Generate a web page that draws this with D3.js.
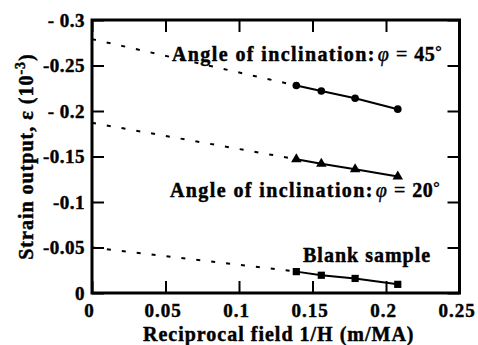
<!DOCTYPE html>
<html>
<head>
<meta charset="utf-8">
<script src="https://cdn.jsdelivr.net/npm/d3@7/dist/d3.min.js"></script>
<style>
  html, body { margin: 0; padding: 0; background: #fff; }
  svg { display: block; }
  text { font-family: "Liberation Serif", "Times New Roman", serif; font-weight: bold; fill: #000;
         stroke: #000; stroke-width: 0.45px; paint-order: stroke; }
</style>
</head>
<body>
<svg id="chart" width="478" height="345"></svg>
<script>
// Reciprocal field 1/H (m/MA) for each measurement
const reciprocalField = [0.139, 0.156, 0.179, 0.208];

// Strain output (10^-3) per sample
const strain45 = [-0.228, -0.222, -0.214, -0.202];
const strain20 = [-0.147, -0.142, -0.136, -0.128];
const strainBlank = [-0.0235, -0.0195, -0.016, -0.0095];

// Extrapolated strain at 1/H = 0 (dotted fit lines)
const intercepts = [-0.279, -0.187, -0.050];

const xTickValues = [0, 0.05, 0.1, 0.15, 0.2, 0.25];
const xTickLabels = ["0", "0.05", "0.1", "0.15", "0.2", "0.25"];
const yTickValues = [0, -0.05, -0.1, -0.15, -0.2, -0.25, -0.3];
const yTickLabels = ["0", "-0.05", "-0.1", "-0.15", "- 0.2", "-0.25", "- 0.3"];

const svg = d3.select("#chart");
const plotLeft = 92, plotRight = 459.5, plotTop = 20, plotBottom = 293;

const x = d3.scaleLinear().domain([0, 0.25]).range([plotLeft, plotRight]);
const y = d3.scaleLinear().domain([0, -0.3]).range([plotBottom, plotTop]);

const tickLen = 12;
const serif = '"Liberation Serif", "Times New Roman", serif';

// Inward ticks on all four sides, bold serif labels
function styleAxis(g) {
  g.attr("font-family", serif).attr("font-size", 19).attr("font-weight", "bold");
  g.select(".domain").remove();
  g.selectAll(".tick line").attr("stroke", "#000").attr("stroke-width", 2);
  g.selectAll(".tick text").attr("fill", "#000");
}

svg.append("g").attr("transform", `translate(0,${plotBottom})`)
  .call(d3.axisBottom(x).tickValues(xTickValues).tickSizeInner(-tickLen).tickSizeOuter(0)
    .tickPadding(11).tickFormat((d, i) => xTickLabels[i]))
  .call(styleAxis)
  .call(g => g.selectAll(".tick text").attr("letter-spacing", 1).attr("dx", -3));

svg.append("g").attr("transform", `translate(0,${plotTop})`)
  .call(d3.axisTop(x).tickValues(xTickValues).tickSizeInner(-tickLen).tickSizeOuter(0).tickFormat(""))
  .call(styleAxis);

svg.append("g").attr("transform", `translate(${plotLeft},0)`)
  .call(d3.axisLeft(y).tickValues(yTickValues).tickSizeInner(-tickLen).tickSizeOuter(0)
    .tickPadding(7).tickFormat((d, i) => yTickLabels[i]))
  .call(styleAxis)
  .call(g => g.selectAll(".tick text").attr("letter-spacing", 0.5));

svg.append("g").attr("transform", `translate(${plotRight},0)`)
  .call(d3.axisRight(y).tickValues(yTickValues).tickSizeInner(-tickLen).tickSizeOuter(0).tickFormat(""))
  .call(styleAxis);

// Plot frame
svg.append("rect")
  .attr("x", plotLeft).attr("y", plotTop)
  .attr("width", plotRight - plotLeft).attr("height", plotBottom - plotTop)
  .attr("fill", "none").attr("stroke", "#000").attr("stroke-width", 3);

const seriesList = [
  { values: strain45, intercept: intercepts[0], marker: "circle" },
  { values: strain20, intercept: intercepts[1], marker: "triangle" },
  { values: strainBlank, intercept: intercepts[2], marker: "square" }
];

const line = d3.line().x(d => x(d[0])).y(d => y(d[1]));

seriesList.forEach(s => {
  const pts = reciprocalField.map((f, i) => [f, s.values[i]]);
  // dotted extrapolation toward 1/H = 0
  svg.append("path")
    .attr("d", line([[0, s.intercept], pts[0]]))
    .attr("fill", "none").attr("stroke", "#000").attr("stroke-width", 2)
    .attr("stroke-dasharray", "4,11");
  // measured data
  svg.append("path")
    .attr("d", line(pts))
    .attr("fill", "none").attr("stroke", "#000").attr("stroke-width", 2);
  const symType = s.marker === "circle" ? d3.symbolCircle
    : s.marker === "triangle" ? d3.symbolTriangle : d3.symbolSquare;
  const size = s.marker === "circle" ? 46 : s.marker === "triangle" ? 48 : 52;
  svg.append("g").selectAll("path")
    .data(pts).join("path")
    .attr("transform", d => `translate(${x(d[0])},${y(d[1])})`)
    .attr("d", d3.symbol().type(symType).size(size))
    .attr("fill", "#000");
});

// Series annotations
function angleLabel(px, py, deg) {
  const t = svg.append("text").attr("x", px).attr("y", py)
    .attr("font-size", 20).attr("letter-spacing", 1.4);
  t.append("tspan").text("Angle of inclination:");
  t.append("tspan").attr("dx", 2).attr("font-style", "italic").attr("font-weight", "normal")
    .attr("letter-spacing", 0).text("φ");
  t.append("tspan").attr("dx", 1).attr("font-weight", "normal").attr("letter-spacing", 1).text(" = ");
  t.append("tspan").attr("letter-spacing", 0.5).text(deg);
  t.append("tspan").attr("font-weight", "normal").attr("dy", -4).attr("font-size", 16).text("°");
}
angleLabel(172, 61, "45");
angleLabel(170, 197, "20");

svg.append("text").attr("x", 303).attr("y", 262)
  .attr("font-size", 20).attr("letter-spacing", 1).text("Blank sample");

// Axis titles
svg.append("text").attr("x", (plotLeft + plotRight) / 2 + 3).attr("y", 341)
  .attr("text-anchor", "middle").attr("font-size", 20).attr("letter-spacing", 1)
  .text("Reciprocal field 1/H (m/MA)");

const yt = svg.append("text")
  .attr("transform", `translate(33,${(plotTop + plotBottom) / 2}) rotate(-90)`)
  .attr("text-anchor", "middle").attr("font-size", 20).attr("letter-spacing", 1);
yt.append("tspan").text("Strain output, ε (10");
yt.append("tspan").attr("dy", -8).attr("font-size", 14).text("-3");
yt.append("tspan").attr("dy", 8).text(")");
</script>
</body>
</html>
